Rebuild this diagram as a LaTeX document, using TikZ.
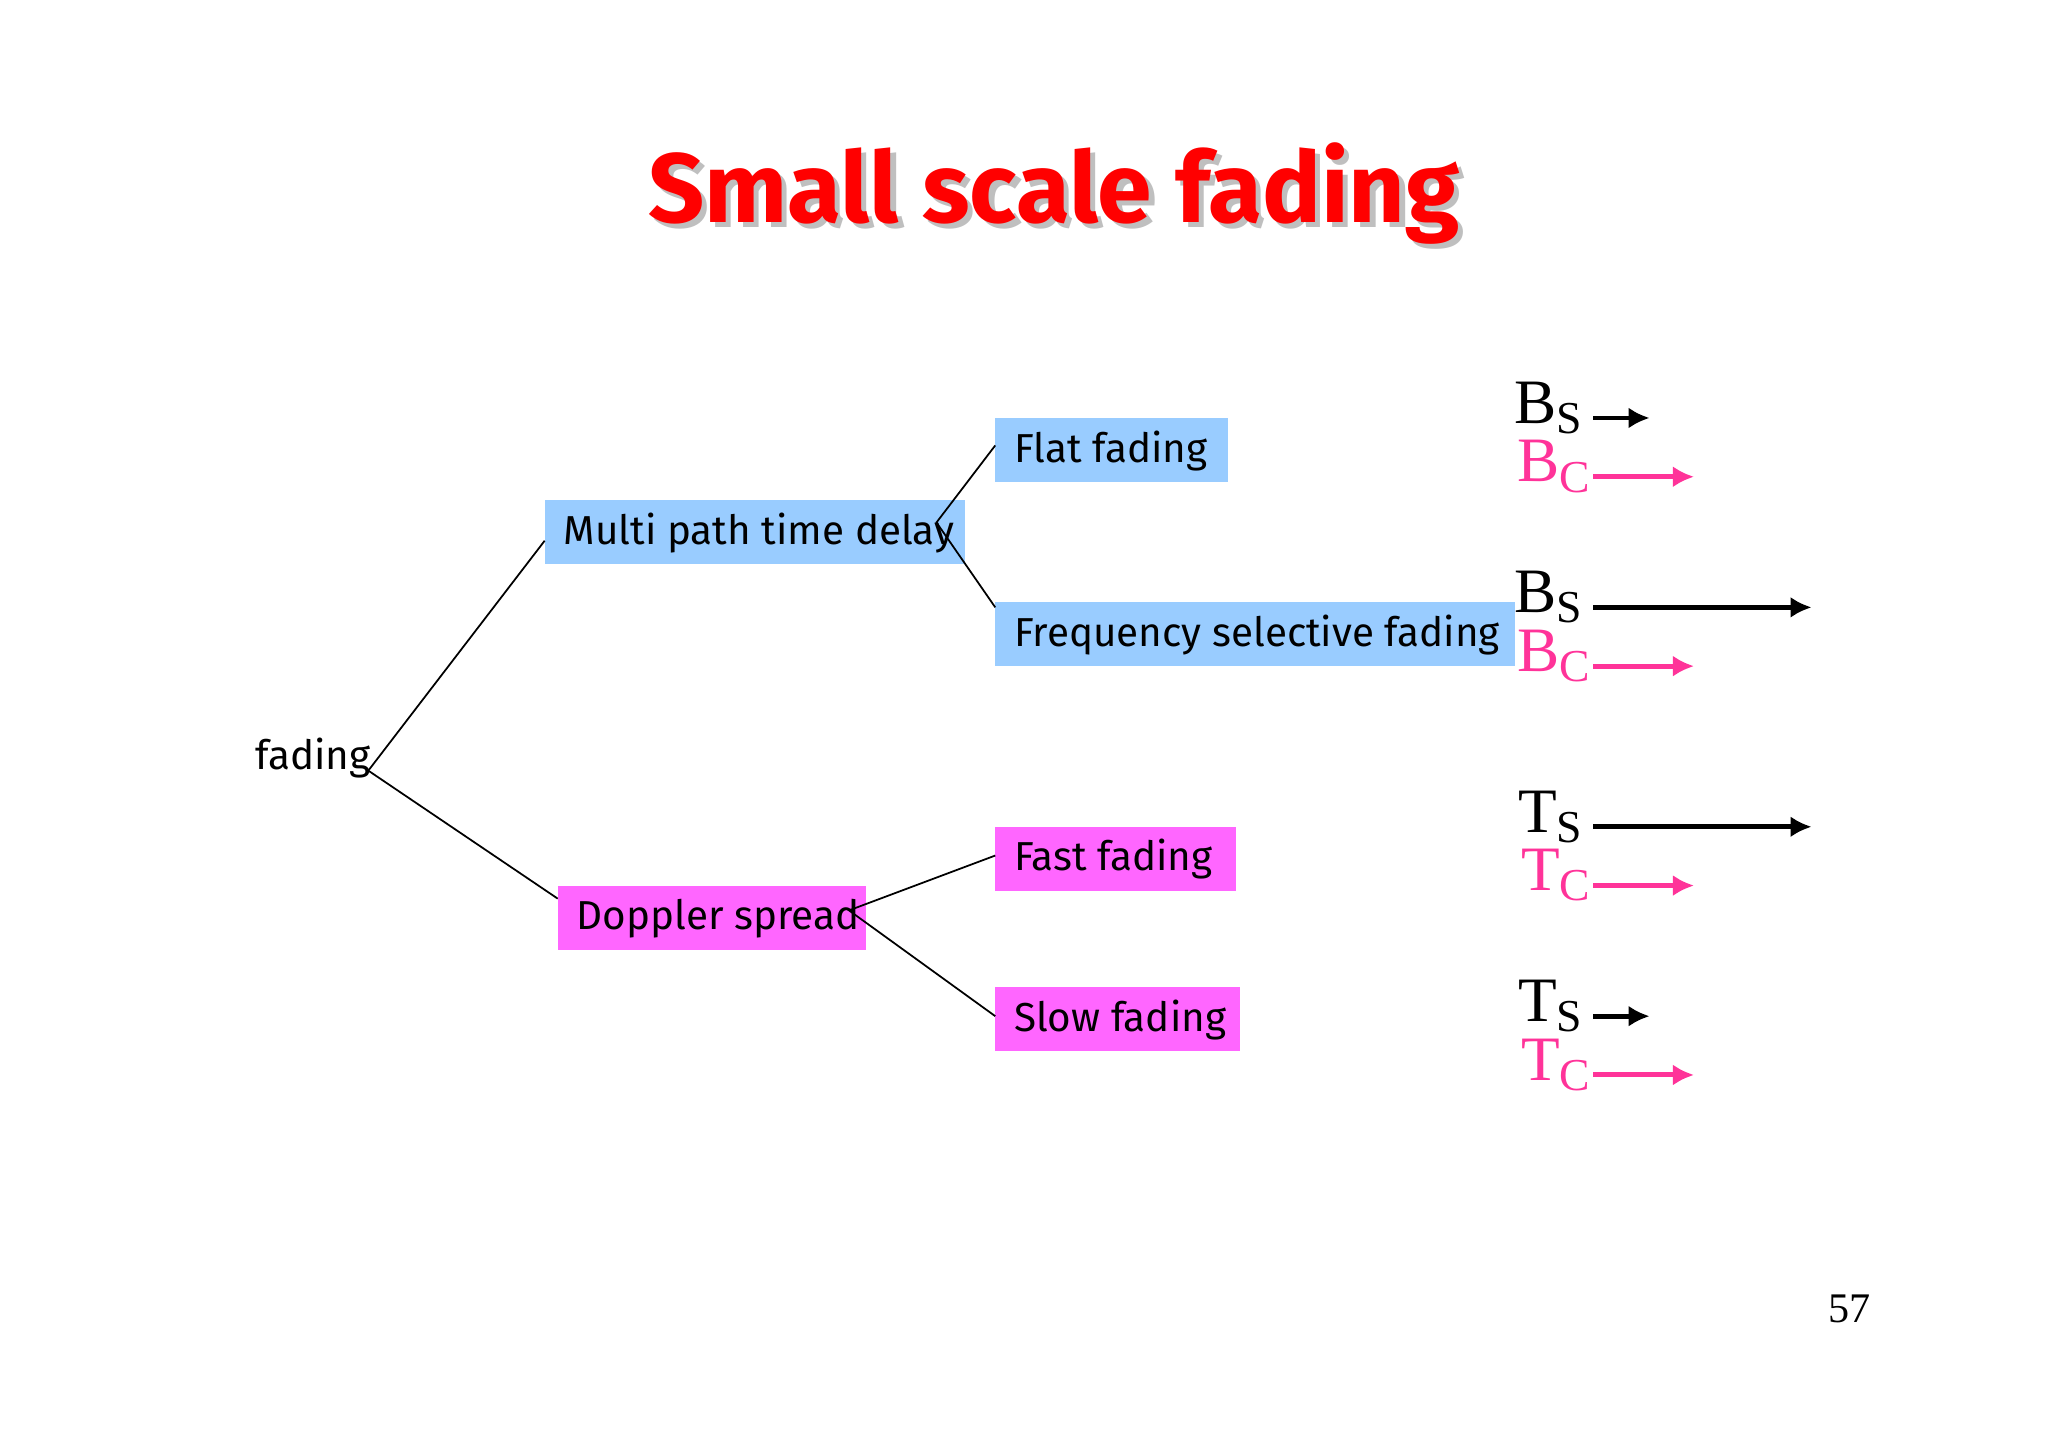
\documentclass[tikz,border=0pt]{standalone}
\usepackage{fontspec}
\setmainfont{Liberation Serif}
\newfontfamily\boxfont{Fira Sans}
\usetikzlibrary{arrows.meta}
\definecolor{bblue}{HTML}{99CCFF}
\definecolor{bmag}{HTML}{FF66FF}
\definecolor{pinkc}{HTML}{FF3399}
\definecolor{titred}{HTML}{FF0000}
\begin{document}
\begin{tikzpicture}[x=0.01306cm,y=-0.01306cm,
  boxn/.style={font=\boxfont\fontsize{11.5}{14}\selectfont, inner sep=0pt, anchor=north west},
  lbl/.style={font=\fontsize{18}{20}\selectfont, anchor=base east, inner sep=0pt},
  arr/.style={line width=1.4pt,-{Latex[length=6pt,width=6pt]}},
  conn/.style={line width=0.5pt}]
\useasboundingbox (0,0) rectangle (1568,1109);
% title
\node[font=\boxfont\bfseries\fontsize{28}{32}\selectfont, text=gray!50] at (811,152) {Small scale fading};
\node[font=\boxfont\bfseries\fontsize{28}{32}\selectfont, text=titred] (title) at (807,148) {Small scale fading};
% boxes
\fill[bblue] (762,320) rectangle (940,369);
\fill[bblue] (417,383) rectangle (739,432);
\fill[bblue] (762,461) rectangle (1160,510);
\fill[bmag] (427,678) rectangle (663,727);
\fill[bmag] (762,633) rectangle (946,682);
\fill[bmag] (762,756) rectangle (949,805);
\node[boxn, anchor=west] (flat) at (776,345) {Flat fading};
\node[boxn, anchor=west] (multi) at (431,408) {Multi path time delay};
\node[boxn, anchor=west] (freq) at (776,486) {Frequency selective fading};
\node[boxn, anchor=west] (dopp) at (441,703) {Doppler spread};
\node[boxn, anchor=west] (fast) at (776,658) {Fast fading};
\node[boxn, anchor=west] (slow) at (776,781) {Slow fading};
\node[boxn, anchor=west] (fading) at (195,580) {fading};
% connectors
\coordinate (f0) at (282,590);
\coordinate (m0) at (417,414);
\coordinate (d0) at (427,688);
\coordinate (m1) at (717,400);
\coordinate (fl) at (762,341);
\coordinate (fr) at (762,465);
\coordinate (d1) at (650,697);
\coordinate (fa) at (762,655);
\coordinate (sl) at (762,778);
\draw[conn] (m0) -- (f0) -- (d0);
\draw[conn] (fl) -- (m1) -- (fr);
\draw[conn] (fa) -- (d1) -- (sl);
% right side
\newcommand{\lab}[2]{#1\raisebox{-0.35ex}{\fontsize{13}{14}\selectfont #2}}
\foreach \name/\L/\y/\col/\len [count=\i] in {
  a/B/324/black/1263, b/B/369/pinkc/1297,
  c/B/469/black/1387, d/B/514/pinkc/1297,
  e/T/637/black/1387, f/T/682/pinkc/1297,
  g/T/782/black/1263, h/T/827/pinkc/1297}{
  \ifodd\i
    \node[lbl, text=\col] (l\name) at (1212,\y) {\lab{\L}{S}};
  \else
    \node[lbl, text=\col] (l\name) at (1218,\y) {\lab{\L}{C}};
  \fi
  \coordinate (s\name) at (1220,\y-4);
  \coordinate (e\name) at (\len,\y-4);
  \draw[arr, draw=\col] (s\name) -- (e\name);
}
\node[font=\fontsize{12}{14}\selectfont] (pg) at (1416,1002) {57};
\end{tikzpicture}
\end{document}
